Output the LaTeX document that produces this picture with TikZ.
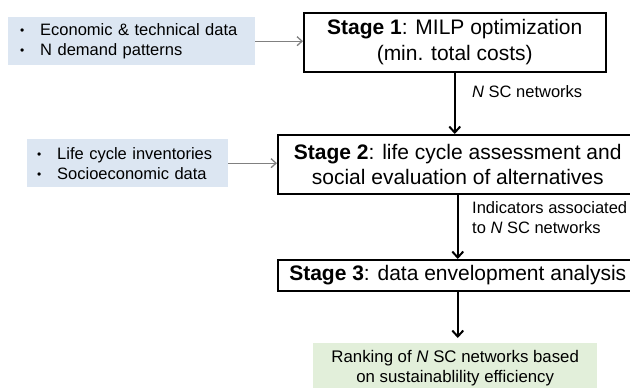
\documentclass[tikz,border=0pt]{standalone}
\usepackage{fontspec}
\setmainfont{Liberation Sans}
\usetikzlibrary{arrows.meta}
\definecolor{inblue}{RGB}{220,230,242}
\definecolor{outgreen}{RGB}{226,239,218}
\definecolor{feedgray}{RGB}{128,128,128}
\tikzset{
  stagebox/.style={draw=black, line width=1.5pt, fill=white, inner sep=0pt, anchor=north west, align=center, font=\fontsize{21}{25.5}\selectfont},
  inbox/.style={fill=inblue, inner sep=0pt, anchor=north west, align=left, font=\fontsize{16.5}{20}\selectfont},
  outbox/.style={fill=outgreen, inner sep=0pt, anchor=north west, align=center, font=\fontsize{16.8}{20.5}\selectfont},
  flowlabel/.style={anchor=west, align=left, inner sep=0pt, font=\fontsize{16.5}{20}\selectfont},
  mainarrow/.style={line width=2pt, -{Straight Barb[length=6pt,width=11pt,line width=2pt]}},
  feedarrow/.style={draw=feedgray, line width=1.3pt, -{Straight Barb[length=5pt,width=9pt,line width=1.3pt]}}
}
\newcommand{\blt}{\makebox[21pt][l]{\hspace{1pt}\raisebox{0.5pt}{\fontsize{12}{12}\selectfont•}}}
\begin{document}
\begin{tikzpicture}[x=1pt,y=-1pt]
\useasboundingbox (0,0) rectangle (630,388);
\clip (0,0) rectangle (630,388);
% input boxes
\node[inbox, minimum width=247pt, minimum height=48pt, text width=225pt] (in1) at (8,17)
  {\blt Economic \& technical data\\ \blt N demand patterns};
\node[inbox, minimum width=201pt, minimum height=48pt, text width=183pt] (in2) at (27,139)
  {\blt Life cycle inventories\\ \blt Socioeconomic data};
% stage boxes
\node[stagebox, minimum width=302pt, minimum height=59pt] (s1) at (303,12)
  {\textbf{Stage 1}: MILP optimization\\ (min. total costs)};
\node[stagebox, minimum width=360pt, minimum height=59pt] (s2) at (277,134)
  {\textbf{Stage 2}: life cycle assessment and\\ social evaluation of alternatives};
\node[stagebox, minimum width=360pt, minimum height=31pt] (s3) at (277,259)
  {\textbf{Stage 3}: data envelopment analysis};
% output box
\node[outbox, minimum width=284pt, minimum height=50pt] (out) at (313,343)
  {Ranking of \textit{N} SC networks based\\ on sustainablility efficiency};
% labels
\node[flowlabel] (l1) at (472,92) {\textit{N} SC networks};
\node[flowlabel] (l2) at (472,218) {Indicators associated\\ to \textit{N} SC networks};
% arrows
\draw[feedarrow] (in1.east) -- (in1.east -| s1.west);
\draw[feedarrow] (in2.east) -- (in2.east -| s2.west);
\draw[mainarrow] (s1.south) -- (s1.south |- s2.north);
\draw[mainarrow] (s2.south) -- (s2.south |- s3.north);
\draw[mainarrow, shorten >=5pt] (s3.south) -- (s3.south |- out.north);
\end{tikzpicture}
\end{document}
